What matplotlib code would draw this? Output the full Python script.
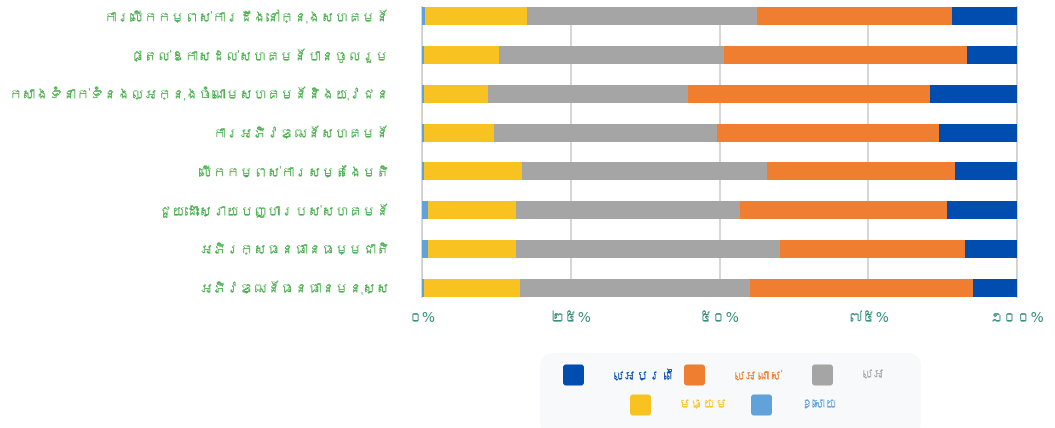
import matplotlib
matplotlib.use("Agg")
import matplotlib.pyplot as plt
from matplotlib import font_manager
from matplotlib.ft2font import FT2Font
from matplotlib.patches import FancyBboxPatch
import numpy as np

# pick a font that actually has Khmer glyphs, if any is installed
khmer_font = None
for f in font_manager.fontManager.ttflist:
    try:
        if 0x1780 in FT2Font(f.fname).get_charmap():
            khmer_font = f.name
            break
    except Exception:
        pass
families = ([khmer_font] if khmer_font else []) + ["DejaVu Sans"]
plt.rcParams["font.family"] = families
tick_families = ["DejaVu Sans"] + ([khmer_font] if khmer_font else [])

# --- data (percent) ---
categories = [
    "ការលើកកម្ពស់ការដឹងនៅក្នុងសហគមន៍",
    "ផ្តល់ឱកាសដល់សហគមន៍បានចូលរួម",
    "កសាងទំនាក់ទំនងល្អក្នុងចំណោមសហគមន៍និងយុវជន",
    "ការអភិវឌ្ឍន៍សហគមន៍",
    "លើកកម្ពស់ការសម្តែងមតិ",
    "ជួយដោះស្រាយបញ្ហារបស់សហគមន៍",
    "អភិរក្សធនធានធម្មជាតិ",
    "អភិវឌ្ឍន៍ធនធានមនុស្ស",
]
weak = [0.6, 0.35, 0.35, 0.35, 0.35, 1.1, 1.1, 0.35]
medium = [17.1, 12.6, 10.7, 11.8, 16.5, 14.65, 14.65, 16.2]
good = [38.6, 37.75, 33.6, 37.45, 41.2, 37.7, 44.35, 38.6]
very_good = [32.8, 40.85, 40.8, 37.25, 31.6, 34.8, 31.2, 37.5]
excellent = [11.0, 8.45, 14.55, 13.15, 10.4, 11.75, 8.7, 7.4]

series_names = ["ខ្សោយ", "មធ្យម", "ល្អ", "ល្អណាស់", "ល្អប្រពៃ"]
series_vals = [weak, medium, good, very_good, excellent]
colors = ["#62A2DA", "#F8C220", "#A5A5A6", "#F07E31", "#004DB0"]

tick_vals = [0, 25, 50, 75, 100]
tick_labels = ["០%", "២៥%", "៥០%", "៧៥%", "១០០%"]

W, H = 1055, 428
fig = plt.figure(figsize=(W / 100, H / 100), dpi=100)
ax = fig.add_axes([421.9 / W, 1 - 296.7 / H, (1017.1 - 421.9) / W, (296.7 - 7.3) / H])

bar_h = 0.46
y = np.arange(len(categories))
left = np.zeros(len(categories))
for name, vals, c in zip(series_names, series_vals, colors):
    ax.barh(y, vals, left=left, height=bar_h, color=c, edgecolor="none", zorder=3, label=name)
    left += np.array(vals)

ax.set_xlim(0, 100)
ax.set_ylim(len(categories) - 1 + bar_h / 2, -bar_h / 2)
ax.set_xticks(tick_vals)
ax.set_xticklabels(tick_labels, color="#3A8F7C", fontsize=10, family=tick_families)
ax.set_yticks(y)
ylabels = ax.set_yticklabels(categories, color="#4CAF50", fontsize=11.3)
ax.tick_params(axis="both", length=0)
ax.tick_params(axis="x", pad=10)
ax.tick_params(axis="y", pad=23)
ax.grid(axis="x", color="#CFCFCF", linewidth=1.2, zorder=0)
for s in ["top", "bottom"]:
    ax.spines[s].set_visible(False)
ax.spines["left"].set_color("#CFCFCF")
ax.spines["right"].set_color("#CFCFCF")
ax.spines["left"].set_linewidth(1.2)
ax.spines["right"].set_linewidth(1.2)

# the Khmer text is laid out without shaping, so it runs wider: shrink to fit
renderer = fig.canvas.get_renderer()
widest = max(t.get_window_extent(renderer).width for t in ylabels)
room = 384
if widest > room:
    for t in ylabels:
        t.set_fontsize(11.3 * room / widest)

# --- legend box, drawn by hand so the second row is centred ---
lx0, ly0, lx1, ly1 = 540, 353, 921, 436
lax = fig.add_axes([0, 0, 1, 1], facecolor="none")
lax.set_xlim(0, W)
lax.set_ylim(H, 0)
lax.axis("off")
lax.add_patch(FancyBboxPatch((lx0 + 12, ly0 + 12), lx1 - lx0 - 24, ly1 - ly0 - 24,
                             boxstyle="round,pad=12,rounding_size=14",
                             facecolor="#F8F9FA", edgecolor="none"))

legend_rows = [
    [(4, 563, 375), (3, 684, 375), (2, 812, 375)],
    [(1, 630, 405), (0, 751, 405)],
]
sq = 21
for row in legend_rows:
    for i, x, yc in row:
        lax.add_patch(FancyBboxPatch((x + 2, yc - sq / 2 + 2), sq - 4, sq - 4,
                                     boxstyle="round,pad=2,rounding_size=3",
                                     facecolor=colors[i], edgecolor="none"))
        lax.text(x + sq + 28, yc, series_names[i], color=colors[i], fontsize=9,
                 fontweight="bold", va="center", ha="left")

fig.savefig("out.png", dpi=100)
